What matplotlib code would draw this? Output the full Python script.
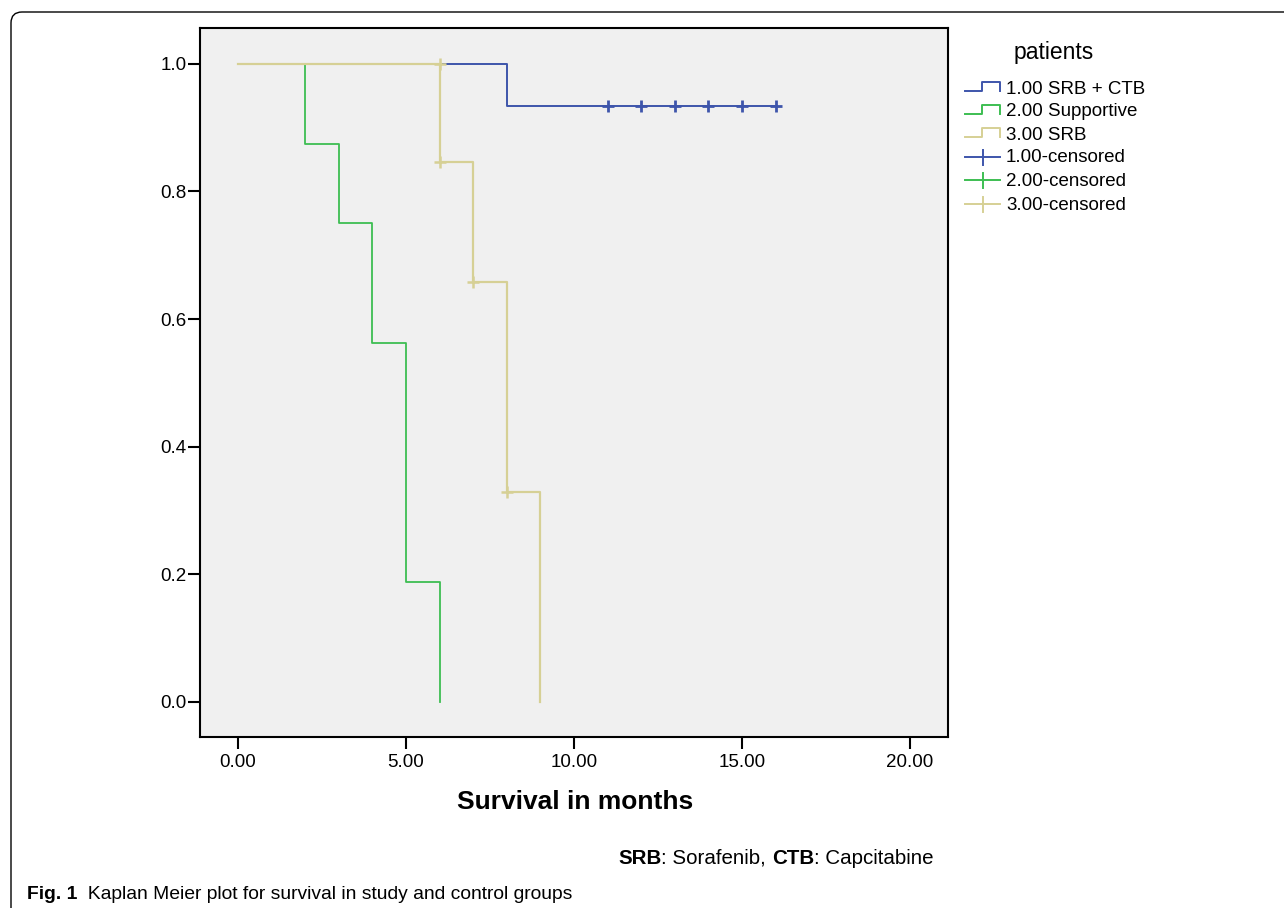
import matplotlib
matplotlib.use("Agg")
import matplotlib.pyplot as plt
from matplotlib.lines import Line2D
from matplotlib.patches import FancyBboxPatch
from matplotlib.transforms import IdentityTransform

plt.rcParams['font.family'] = ['Liberation Sans', 'DejaVu Sans']

# survival data (Kaplan Meier estimates)
srb_ctb_t = [0, 8, 16]
srb_ctb_s = [1.0, 0.933, 0.933]
srb_ctb_cens_t = [11, 12, 13, 14, 15, 16]
srb_ctb_cens_s = [0.933, 0.933, 0.933, 0.933, 0.933, 0.933]

supp_t = [0, 2, 3, 4, 5, 6]
supp_s = [1.0, 0.875, 0.75, 0.5625, 0.1875, 0.0]

srb_t = [0, 6, 7, 8, 9]
srb_s = [1.0, 0.846, 0.658, 0.329, 0.0]
srb_cens_t = [6, 6, 7, 8]
srb_cens_s = [1.0, 0.846, 0.658, 0.329]

group_labels = ["1.00 SRB + CTB", "2.00 Supportive", "3.00 SRB",
                "1.00-censored", "2.00-censored", "3.00-censored"]
xticks = [0, 5, 10, 15, 20]
yticks = [0.0, 0.2, 0.4, 0.6, 0.8, 1.0]

BLUE = "#3e55ab"
GREEN = "#3dbe52"
TAN = "#d6d095"

W, H = 1284, 908
fig = plt.figure(figsize=(W / 100, H / 100), dpi=100)


def fx(x):
    return x / W


def fy(y):
    return 1 - y / H


# outer rounded frame
frame = FancyBboxPatch((11, -40), 1500, (H - 12) + 40,
                       boxstyle="round,pad=0,rounding_size=11",
                       transform=IdentityTransform(), fill=False,
                       ec="black", lw=1.0, clip_on=False)
fig.add_artist(frame)

ax = fig.add_axes([fx(200), fy(737), (948 - 200) / W, (737 - 28) / H])
ax.set_facecolor("#f0f0f0")

ax.step(srb_ctb_t, srb_ctb_s, where="post", color=BLUE, lw=1.4)
ax.step(supp_t, supp_s, where="post", color=GREEN, lw=1.3)
ax.step(srb_t, srb_s, where="post", color=TAN, lw=1.6)
ax.plot(srb_ctb_cens_t, srb_ctb_cens_s, ls="none", marker="+", ms=9,
        mew=2.0, color=BLUE)
ax.plot(srb_cens_t, srb_cens_s, ls="none", marker="+", ms=9,
        mew=1.8, color=TAN)

ax.set_xlim(-1.13, 21.13)
ax.set_ylim(-0.055, 1.056)
ax.set_xticks(xticks)
ax.set_xticklabels(["%.2f" % v for v in xticks])
ax.set_yticks(yticks)
ax.set_yticklabels(["%.1f" % v for v in yticks])
ax.tick_params(length=8.5, width=1.5, labelsize=13.5, colors="black")
ax.tick_params(axis="x", pad=4)
ax.tick_params(axis="y", pad=1)
for sp in ax.spines.values():
    sp.set_linewidth(1.5)
    sp.set_color("black")

fig.text(fx(575), fy(802), "Survival in months", ha="center", va="center",
         fontsize=19, fontweight="bold")

# legend drawn by hand (SPSS style)
fig.text(fx(1054), fy(53), "patients", ha="center", va="center", fontsize=16.5)
row_y = [88, 111, 134, 157, 180, 204]
colors = [BLUE, GREEN, TAN, BLUE, GREEN, TAN]
for i, (y, lab, c) in enumerate(zip(row_y, group_labels, colors)):
    if i < 3:
        xs = [965, 982, 982, 1000, 1000]
        ys = [y + 3, y + 3, y - 6, y - 6, y + 3]
        fig.add_artist(Line2D([fx(v) for v in xs], [fy(v) for v in ys],
                              color=c, lw=1.4, transform=fig.transFigure))
    else:
        fig.add_artist(Line2D([fx(965), fx(1000)], [fy(y), fy(y)],
                              color=c, lw=1.4, transform=fig.transFigure))
        fig.add_artist(Line2D([fx(983), fx(983)], [fy(y - 7.5), fy(y + 7.5)],
                              color=c, lw=1.4, transform=fig.transFigure))
    fig.text(fx(1006), fy(y + 1), lab, ha="left", va="center", fontsize=13.5)

# footnote and caption
cap_font = ["Liberation Sans", "DejaVu Sans"]
fig.canvas.draw()
renderer = fig.canvas.get_renderer()


def run_text(x, y, parts, size):
    for txt, weight in parts:
        t = fig.text(fx(x), fy(y), txt, ha="left", va="baseline",
                     fontsize=size, fontweight=weight, family=cap_font)
        x += t.get_window_extent(renderer).width


run_text(618, 864, [("SRB", "bold"), (": Sorafenib, ", "normal"),
                    ("CTB", "bold"), (": Capcitabine", "normal")], 14.8)
run_text(27, 899, [("Fig. 1", "bold"), ("  Kaplan Meier plot for survival in study and control groups", "normal")], 13.9)

fig.savefig("out.png", dpi=100)
